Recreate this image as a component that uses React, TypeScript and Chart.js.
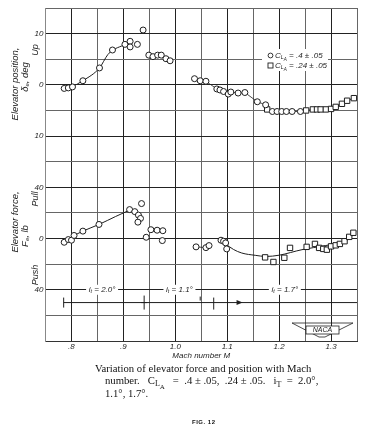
import React, { useEffect, useRef } from 'react';
import { Chart, registerables } from 'chart.js';
Chart.register(...registerables);

// ---- data (Mach number, value) ----
const machTicks = [0.75, 0.8, 0.85, 0.9, 0.95, 1.0, 1.05, 1.1, 1.15, 1.2, 1.25, 1.3, 1.35];
const machTickLabels = ['', '.8', '', '.9', '', '1.0', '', '1.1', '', '1.2', '', '1.3', ''];
const gridTicks = [-50, -45, -40, -35, -30, -25, -20, -15, -10, -5, 0, 5, 10, 15];
const gridTickLabels = ['', '', '40', '', '0', '', '40', '', '10', '', '0', '', '10', ''];

const posLowCircles = [[0.786,-0.7],[0.794,-0.6],[0.802,-0.4],[0.822,0.8],[0.854,3.3],[0.879,6.8],[0.903,7.9],[0.913,8.5],[0.913,7.4],[0.927,7.9],[0.938,10.7],[0.949,5.8],[0.957,5.5],[0.966,5.8],[0.973,5.8],[0.982,5.1],[0.990,4.7]];
const posHighCircles = [[1.037,1.2],[1.048,0.8],[1.059,0.7],[1.080,-0.8],[1.086,-1.0],[1.093,-1.3],[1.102,-1.8],[1.107,-1.4],[1.121,-1.6],[1.134,-1.5],[1.158,-3.3],[1.174,-3.9],[1.187,-5.2],[1.196,-5.2],[1.205,-5.2],[1.214,-5.2],[1.225,-5.2],[1.241,-5.2]];
const posSquares = [[1.177,-4.8],[1.252,-5.0],[1.265,-4.8],[1.273,-4.8],[1.280,-4.8],[1.290,-4.8],[1.300,-4.7],[1.309,-4.3],[1.321,-3.7],[1.331,-3.1],[1.344,-2.6]];
const posFairing = [[0.801,-0.4],[0.822,0.8],[0.854,3.3],[0.870,5.9],[0.880,6.8],[0.897,7.6],[0.911,8.2]];

const forceLowCircles = [[0.786,-2.9],[0.794,-0.8],[0.800,-1.3],[0.805,2.4],[0.822,5.8],[0.853,11.0],[0.912,22.6],[0.922,21.0],[0.929,18.3],[0.933,15.7],[0.928,12.8],[0.935,27.3],[0.944,1.0],[0.953,6.9],[0.965,6.5],[0.976,6.1],[0.975,-1.6]];
const forceHighCircles = [[1.040,-6.5],[1.059,-7.1],[1.065,-5.5],[1.088,-1.3],[1.093,-2.1],[1.097,-3.4],[1.099,-8.1]];
const forceSquares = [[1.173,-14.7],[1.189,-18.3],[1.210,-15.0],[1.221,-7.3],[1.253,-6.5],[1.269,-4.2],[1.277,-7.3],[1.285,-8.1],[1.292,-8.7],[1.300,-6.1],[1.309,-5.3],[1.317,-4.2],[1.326,-2.1],[1.335,1.3],[1.343,4.5]];
const forceFairingLow = [[0.805,2.4],[0.822,5.8],[0.853,11.0],[0.885,17.2],[0.911,22.0]];
const forceFairingHigh = [[1.097,-4.2],[1.112,-8.5],[1.128,-11.3],[1.154,-13.1],[1.175,-14.0],[1.200,-13.0],[1.244,-8.7],[1.289,-5.5],[1.321,-2.9],[1.337,0.5],[1.348,5.5]];

const stabilizerLabels = ['2.0°', '1.1°', '1.7°'];
const stabilizerLabelMach = [0.859, 1.008, 1.211];

const FONT = '"Liberation Sans", "DejaVu Sans", sans-serif';
const INK = '#1e1e1e';

const pts = (a: number[][]) => a.map(([x, y]) => ({ x, y }));
const sortedPts = (a: number[][]) => pts([...a].sort((p, q) => p[0] - q[0]));

type Part = { t: string; size: number; dy?: number };

function drawRich(ctx: CanvasRenderingContext2D, parts: Part[], x: number, y: number, rotate: boolean, align: 'center' | 'left' = 'center') {
  ctx.save();
  ctx.translate(x, y);
  if (rotate) ctx.rotate(-Math.PI / 2);
  ctx.textBaseline = 'middle';
  ctx.textAlign = 'left';
  let total = 0;
  const widths = parts.map((p) => {
    ctx.font = `italic ${p.size}px ${FONT}`;
    const w = ctx.measureText(p.t).width;
    total += w;
    return w;
  });
  let cx = align === 'center' ? -total / 2 : 0;
  parts.forEach((p, i) => {
    ctx.font = `italic ${p.size}px ${FONT}`;
    ctx.fillText(p.t, cx, p.dy || 0);
    cx += widths[i];
  });
  ctx.restore();
  return total;
}

const decorPlugin = {
  id: 'decor',
  beforeDatasetsDraw(chart: any) {
    const ctx: CanvasRenderingContext2D = chart.ctx;
    const xs = chart.scales.x;
    const fs = chart.scales.y2;
    ctx.save();
    ctx.fillStyle = INK;
    ctx.strokeStyle = INK;

    // legend box
    ctx.fillStyle = '#fff';
    ctx.fillRect(262, 49, 66, 22);
    ctx.fillStyle = INK;
    ctx.lineWidth = 0.9;
    ctx.beginPath();
    ctx.arc(270.5, 55.5, 2.4, 0, Math.PI * 2);
    ctx.stroke();
    ctx.strokeRect(268, 63, 5, 5);
    drawRich(ctx, [{ t: 'C', size: 8 }, { t: 'L', size: 5.5, dy: 2 }, { t: 'A', size: 4.5, dy: 4 }, { t: ' = .4 ± .05', size: 8 }], 275, 55.5, false, 'left');
    drawRich(ctx, [{ t: 'C', size: 8 }, { t: 'L', size: 5.5, dy: 2 }, { t: 'A', size: 4.5, dy: 4 }, { t: ' = .24 ± .05', size: 8 }], 275, 65.5, false, 'left');

    // stabilizer incidence labels on the -40 lb line
    const ly = fs.getPixelForValue(-40);
    stabilizerLabels.forEach((lab, i) => {
      const lx = xs.getPixelForValue(stabilizerLabelMach[i]);
      ctx.fillStyle = '#fff';
      ctx.fillRect(lx - 16, ly - 5, 32, 10);
      ctx.fillStyle = INK;
      drawRich(ctx, [{ t: 'i', size: 8 }, { t: 't', size: 5.5, dy: 2 }, { t: ' = ' + lab, size: 8 }], lx, ly, false);
    });

    // dimension line
    const dy = fs.getPixelForValue(-50);
    const xa = xs.getPixelForValue(0.785);
    const xb = xs.getPixelForValue(0.94);
    const xc = xs.getPixelForValue(1.048);
    const xd = xs.getPixelForValue(1.074);
    const xe = xs.getPixelForValue(1.12);
    const xr = chart.chartArea.right;
    ctx.lineWidth = 1;
    ctx.beginPath();
    ctx.moveTo(xa, dy); ctx.lineTo(xr, dy);
    ctx.moveTo(xa, dy - 5); ctx.lineTo(xa, dy + 5);
    ctx.moveTo(xb, dy - 7); ctx.lineTo(xb, dy + 7);
    ctx.moveTo(xb - 3, dy); ctx.lineTo(xb + 3, dy);
    ctx.moveTo(xc, dy - 6); ctx.lineTo(xc, dy - 2);
    ctx.moveTo(xd, dy - 5); ctx.lineTo(xd, dy + 7);
    ctx.stroke();
    ctx.beginPath();
    ctx.moveTo(xe + 5, dy); ctx.lineTo(xe - 1, dy - 2.5); ctx.lineTo(xe - 1, dy + 2.5); ctx.closePath();
    ctx.fill();

    // NACA badge
    const nx = 292, ny = 323;
    ctx.lineWidth = 0.8;
    ctx.beginPath();
    ctx.moveTo(nx, ny); ctx.lineTo(nx + 61, ny);
    ctx.lineTo(nx + 33, ny + 14); ctx.lineTo(nx + 27, ny + 14); ctx.closePath();
    ctx.stroke();
    ctx.fillStyle = '#fff';
    ctx.fillRect(nx + 14, ny + 3, 33, 8);
    ctx.strokeRect(nx + 14, ny + 3, 33, 8);
    ctx.fillStyle = INK;
    drawRich(ctx, [{ t: 'NACA', size: 7 }], nx + 30.5, ny + 7, false);
    ctx.restore();
  },
  afterDraw(chart: any) {
    const ctx: CanvasRenderingContext2D = chart.ctx;
    ctx.save();
    ctx.fillStyle = INK;
    drawRich(ctx, [{ t: 'Elevator position,', size: 9.5 }], 15, 84, true);
    drawRich(ctx, [{ t: 'δ', size: 9.5 }, { t: 'e', size: 6, dy: 2 }, { t: ', deg', size: 9.5 }], 25, 77, true);
    drawRich(ctx, [{ t: 'Up', size: 9 }], 35, 50, true);
    drawRich(ctx, [{ t: 'Elevator force,', size: 9.5 }], 15, 222, true);
    drawRich(ctx, [{ t: 'F', size: 9.5 }, { t: 'e', size: 6, dy: 2 }, { t: ', lb', size: 9.5 }], 25, 236, true);
    drawRich(ctx, [{ t: 'Pull', size: 9 }], 35, 199, true);
    drawRich(ctx, [{ t: 'Push', size: 9 }], 35, 275, true);
    ctx.restore();
  },
};

const markerStyle = (style: string, radius: number) => ({
  pointStyle: style,
  pointRadius: radius,
  pointBackgroundColor: '#fff',
  pointBorderColor: INK,
  pointBorderWidth: 1,
  showLine: false,
  order: 0,
});
const curveStyle = (width: number, smooth: boolean) => ({
  showLine: true,
  pointRadius: 0,
  borderColor: INK,
  borderWidth: width,
  cubicInterpolationMode: smooth ? 'monotone' : 'default',
  tension: 0,
  order: 1,
});

export default function App() {
  const ref = useRef<HTMLCanvasElement>(null);
  useEffect(() => {
    if (!ref.current) return;
    const findLabel = (v: number) => {
      const i = machTicks.findIndex((t) => Math.abs(t - v) < 1e-6);
      return i >= 0 ? machTickLabels[i] : '';
    };
    const chart = new Chart(ref.current, {
      type: 'scatter',
      data: {
        datasets: [
          { label: 'pos low', data: pts(posLowCircles), yAxisID: 'y', ...markerStyle('circle', 3) },
          { label: 'pos high', data: pts(posHighCircles), yAxisID: 'y', ...markerStyle('circle', 3) },
          { label: 'pos sq', data: pts(posSquares), yAxisID: 'y', ...markerStyle('rect', 3.8) },
          { label: 'pos link', data: sortedPts([...posHighCircles, ...posSquares]), yAxisID: 'y', ...curveStyle(0.8, false) },
          { label: 'pos fair', data: pts(posFairing), yAxisID: 'y', ...curveStyle(1, true) },
          { label: 'f low', data: pts(forceLowCircles), yAxisID: 'y2', ...markerStyle('circle', 3) },
          { label: 'f high', data: pts(forceHighCircles), yAxisID: 'y2', ...markerStyle('circle', 3) },
          { label: 'f sq', data: pts(forceSquares), yAxisID: 'y2', ...markerStyle('rect', 3.8) },
          { label: 'f link', data: pts(forceHighCircles.slice(0, 3)), yAxisID: 'y2', ...curveStyle(0.8, false) },
          { label: 'f fair low', data: pts(forceFairingLow), yAxisID: 'y2', ...curveStyle(1, true) },
          { label: 'f fair high', data: pts(forceFairingHigh), yAxisID: 'y2', ...curveStyle(1, true) },
        ] as any,
      },
      options: {
        animation: false,
        responsive: false,
        layout: { padding: { left: 0, top: 8, right: 26, bottom: 71 } },
        plugins: { legend: { display: false }, tooltip: { enabled: false } },
        scales: {
          x: {
            type: 'linear',
            min: 0.75,
            max: 1.35,
            afterBuildTicks: (s: any) => { s.ticks = machTicks.map((v) => ({ value: v })); },
            afterFit: (s: any) => { s.height = 20; },
            ticks: {
              callback: (v: any) => findLabel(Number(v)),
              autoSkip: false,
              maxRotation: 0,
              padding: 1,
              color: INK,
              font: { family: FONT, style: 'italic', size: 8 },
            },
            grid: {
              drawTicks: false,
              color: (c: any) => (findLabel(c.tick?.value) ? '#222' : '#666'),
              lineWidth: 1,
            },
            border: { color: '#333', width: 1 },
            title: {
              display: true,
              text: 'Mach number M',
              color: INK,
              padding: 0,
              font: { family: FONT, style: 'italic', size: 8 },
            },
          },
          y: {
            type: 'linear',
            min: -50,
            max: 15,
            afterBuildTicks: (s: any) => { s.ticks = gridTicks.map((v) => ({ value: v })); },
            afterFit: (s: any) => { s.width = 45.5; },
            ticks: {
              callback: (v: any) => {
                const i = gridTicks.indexOf(Number(v));
                return i >= 0 ? gridTickLabels[i] : '';
              },
              autoSkip: false,
              padding: 2,
              color: INK,
              font: { family: FONT, style: 'italic', size: 8 },
            },
            grid: {
              drawTicks: false,
              color: (c: any) => (c.tick && c.tick.value % 10 === 0 ? '#222' : '#666'),
              lineWidth: 1,
            },
            border: { color: '#888', width: 1 },
          },
          y2: { type: 'linear', display: false, min: -80, max: 180 },
        },
      } as any,
      plugins: [decorPlugin],
    });
    return () => chart.destroy();
  }, []);

  const cap: React.CSSProperties = {
    position: 'absolute',
    fontFamily: '"Liberation Serif", "DejaVu Serif", serif',
    fontSize: 10.7,
    lineHeight: '12px',
    whiteSpace: 'pre',
    color: '#111',
  };
  return (
    <div style={{ position: 'fixed', left: 0, top: 0, width: 383, height: 432, background: '#fff' }}>
      <canvas ref={ref} width={383} height={432} style={{ display: 'block' }} />
      <div style={{ ...cap, left: 95, top: 362 }}>Variation of elevator force and position with Mach</div>
      <div style={{ ...cap, left: 105, top: 374 }}>
        {'number.   C'}
        <sub style={{ fontSize: 8, verticalAlign: '-2px' }}>L</sub>
        <sub style={{ fontSize: 7, verticalAlign: '-5px' }}>A</sub>
        {'   =  .4 ± .05,  .24 ± .05.   i'}
        <sub style={{ fontSize: 8, verticalAlign: '-3px' }}>T</sub>
        {'  =  2.0°,'}
      </div>
      <div style={{ ...cap, left: 105, top: 387 }}>1.1°, 1.7°.</div>
      <div style={{ ...cap, left: 192, top: 416, fontSize: 6, fontWeight: 'bold', fontFamily: FONT, letterSpacing: 0.5 }}>FIG. 12</div>
    </div>
  );
}
